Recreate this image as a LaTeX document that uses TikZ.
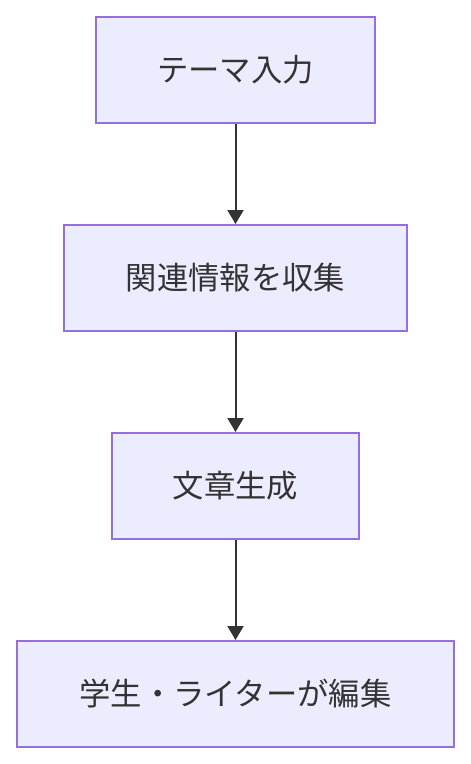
\documentclass[tikz,border=0pt]{standalone}
\usepackage{fontspec}
\setmainfont{Noto Sans CJK JP}
\usepackage{tikz}
\usetikzlibrary{arrows.meta,positioning}
\usepackage{xcolor}
\definecolor{boxfill}{HTML}{ECECFF}
\definecolor{boxline}{HTML}{9370DB}
\definecolor{ink}{HTML}{333333}

\tikzset{
  stepbox/.style={draw=boxline,fill=boxfill,line width=1.5pt,text=ink,
    minimum height=79.5pt,align=center,font=\fontsize{23.5pt}{28pt}\selectfont},
  flow/.style={-{Triangle[length=10.5pt,width=12pt]},draw=ink,line width=1.5pt}
}

\begin{document}
\begin{tikzpicture}[x=0.75pt,y=-0.75pt]
\useasboundingbox (0,0) rectangle (471,764);
\node[stepbox,minimum width=209.25pt] (theme) at (235.5,70){テーマ入力};
\node[stepbox,minimum width=257.25pt,below=75pt of theme] (collect){関連情報を収集};
\node[stepbox,minimum width=185.25pt,below=75pt of collect] (write){文章生成};
\node[stepbox,minimum width=327.75pt,below=75pt of write] (edit){学生・ライターが編集};
\draw[flow] (theme)--(collect);
\draw[flow] (collect)--(write);
\draw[flow] (write)--(edit);
\end{tikzpicture}
\end{document}
